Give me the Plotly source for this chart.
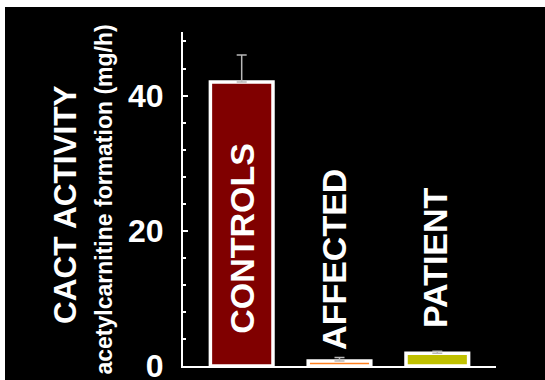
import plotly.graph_objects as go

# CACT activity per group
groups = ["CONTROLS", "AFFECTED", "PATIENT"]
activity = [42.0, 0.75, 1.9]
sd_upper = [4.0, 0.5, 0.3]
fill_colors = ["#800000", "#ff8020", "#c0c000"]

y_title = "CACT ACTIVITY"
y_subtitle = "acetylcarnitine formation (mg/h)"
y_ticks = [0, 20, 40]

W, H = 545, 380
ML, MR, MT, MB = 183, 49, 32, 14
PW, PH = W - ML - MR, H - MT - MB


def px_x(x):
    return (x - ML) / PW


def px_y(y):
    return 1 - (y - MT) / PH


fig = go.Figure()
fig.add_trace(go.Bar(
    x=list(range(len(groups))),
    y=activity,
    marker=dict(color=fill_colors, line=dict(color="white", width=3.5)),
    width=0.64,
    error_y=dict(type="data", symmetric=False, array=sd_upper,
                 arrayminus=[0] * len(groups),
                 color="#b8b8b8", thickness=1.5, width=5),
    showlegend=False,
    hoverinfo="skip",
))

# group names written vertically on/above each bar
label_bottom = [4.5, 2.1, 5.3]
label_dx = [0.0, -0.05, -0.03]
for i, name in enumerate(groups):
    fig.add_annotation(
        x=i + label_dx[i], y=label_bottom[i], xref="x", yref="y",
        text=name, textangle=-90, showarrow=False,
        xanchor="center", yanchor="bottom",
        font=dict(family="Liberation Sans, Arial, sans-serif", size=34,
                  color="white", weight="bold"),
    )

# two-line axis title
fig.add_annotation(
    x=px_x(65), y=px_y(205), xref="paper", yref="paper",
    text=y_title, textangle=-90, showarrow=False,
    xanchor="center", yanchor="middle",
    font=dict(family="Liberation Sans, Arial, sans-serif", size=31.5,
              color="white", weight="bold"),
)
fig.add_annotation(
    x=px_x(103), y=px_y(199.5), xref="paper", yref="paper",
    text=y_subtitle, textangle=-90, showarrow=False,
    xanchor="center", yanchor="middle",
    font=dict(family="Liberation Sans, Arial, sans-serif", size=23,
              color="white", weight="bold"),
)

# white frame on the top and left edges of the figure
fig.add_shape(type="rect", xref="paper", yref="paper",
              x0=px_x(0), x1=px_x(5), y0=px_y(H), y1=px_y(0),
              fillcolor="white", line=dict(width=0), layer="below")
fig.add_shape(type="rect", xref="paper", yref="paper",
              x0=px_x(0), x1=px_x(W), y0=px_y(7), y1=px_y(0),
              fillcolor="white", line=dict(width=0), layer="below")

fig.update_layout(
    width=W, height=H,
    margin=dict(l=ML, r=MR, t=MT, b=MB, pad=0, autoexpand=False),
    paper_bgcolor="black", plot_bgcolor="black",
    bargap=0.36,
    xaxis=dict(range=[-0.6, 2.6], showticklabels=False, ticks="",
               showgrid=False, zeroline=False, showline=True,
               linecolor="white", linewidth=2, automargin=False),
    yaxis=dict(range=[0, 49.4], tickvals=y_ticks, ticks="inside",
               ticklen=5, tickwidth=1.5, tickcolor="white",
               showgrid=False, zeroline=False, showline=True,
               linecolor="white", linewidth=2, ticklabelstandoff=11,
               ticklabeloverflow="allow", automargin=False,
               tickfont=dict(family="Liberation Sans, Arial, sans-serif",
                             size=32, color="white", weight="bold"),
               minor=dict(dtick=4, tick0=0, ticks="inside", ticklen=3,
                          tickwidth=1.5, tickcolor="white")),
)

fig.write_html("out.html")
